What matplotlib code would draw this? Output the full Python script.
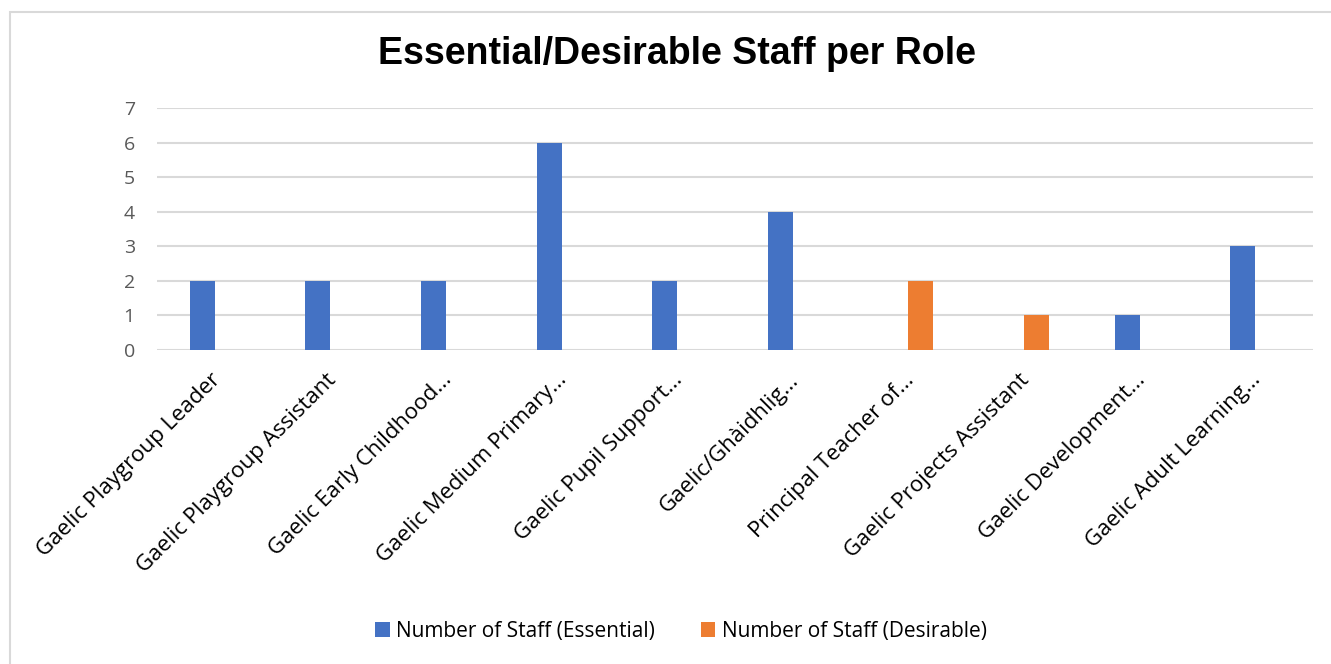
import matplotlib
matplotlib.use("Agg")
import matplotlib.pyplot as plt
import numpy as np
from matplotlib.patches import Rectangle
from matplotlib.transforms import ScaledTranslation

categories = [
    "Gaelic Playgroup Leader",
    "Gaelic Playgroup Assistant",
    "Gaelic Early Childhood...",
    "Gaelic Medium Primary...",
    "Gaelic Pupil Support...",
    "Gaelic/Ghàidhlig...",
    "Principal Teacher of...",
    "Gaelic Projects Assistant",
    "Gaelic Development...",
    "Gaelic Adult Learning...",
]
essential = [2, 2, 2, 6, 2, 4, 0, 0, 1, 3]
desirable = [0, 0, 0, 0, 0, 0, 2, 1, 0, 0]
series_names = ["Number of Staff (Essential)", "Number of Staff (Desirable)"]
yticks = [0, 1, 2, 3, 4, 5, 6, 7]

BLUE = "#4472C4"
ORANGE = "#ED7D31"
GRID = "#D9D9D9"
W, H = 1331, 664

fig = plt.figure(figsize=(W / 100, H / 100), dpi=100)
fig.patch.set_facecolor("white")
# outer border (right and bottom edges fall outside the image)
fig.patches.append(Rectangle((10 / W, -0.05), 1.1, 1 - 12 / H + 0.05,
                             transform=fig.transFigure, fill=False,
                             edgecolor=GRID, linewidth=1.5))

left, right, top, bottom = 157, 1313, 108, 350
ax = fig.add_axes([left / W, 1 - bottom / H, (right - left) / W, (bottom - top) / H])

x = np.arange(len(categories))
bw = 0.216
ax.bar(x - bw / 2, essential, width=bw, color=BLUE, label=series_names[0], zorder=3)
ax.bar(x + bw / 2, desirable, width=bw, color=ORANGE, label=series_names[1], zorder=3)

ax.set_xlim(-0.5, len(categories) - 0.5)
ax.set_ylim(0, 7)
ax.set_yticks(yticks)
ax.set_yticklabels([str(v) for v in yticks], fontsize=14, color="#595959", family="Open Sans")
ax.tick_params(axis="y", length=0, pad=16)
ax.tick_params(axis="x", length=0, pad=14)
ax.grid(axis="y", color=GRID, linewidth=1.5, zorder=0)
for s in ax.spines.values():
    s.set_visible(False)

ax.set_xticks(x)
ax.set_xticklabels(categories, rotation=45, ha="right", rotation_mode="anchor",
                   fontsize=16, color="#000000", family="Open Sans")
shift = ScaledTranslation(-5 / 100, 0, fig.dpi_scale_trans)
for lab in ax.get_xticklabels():
    lab.set_transform(lab.get_transform() + shift)

fig.text(0.5 * (380 + 973) / W, 1 - 54 / H, "Essential/Desirable Staff per Role",
         ha="center", va="center", fontsize=27, fontweight="bold",
         family="Liberation Sans", color="black")

leg = fig.legend(loc="center", bbox_to_anchor=(681 / W, 1 - 631 / H), ncol=2,
                 frameon=False, prop={"family": "Open Sans", "size": 15},
                 handlelength=0.7, handleheight=0.7, handletextpad=0.3,
                 columnspacing=2.2)
for t in leg.get_texts():
    t.set_color("#000000")

fig.savefig("out.png", dpi=100)
